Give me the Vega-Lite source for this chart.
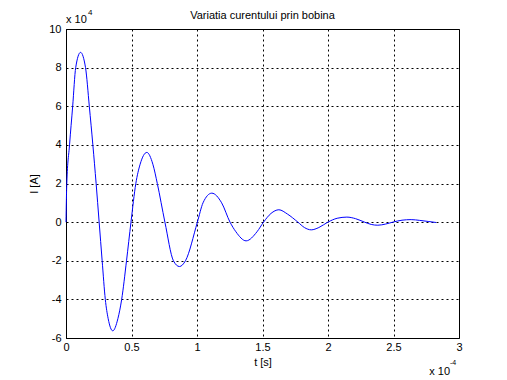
{
  "$schema": "https://vega.github.io/schema/vega-lite/v6.json",
  "width": 393,
  "height": 309,
  "autosize": {"type": "none"},
  "padding": {"left": 66, "top": 29, "right": 48, "bottom": 42},
  "background": "white",
  "config": {
    "font": "Liberation Sans",
    "view": {"stroke": "black", "strokeWidth": 1},
    "axis": {
      "labelFontSize": 11, "labelColor": "black", "labelFont": "Liberation Sans",
      "titleFontSize": 11, "titleFontWeight": "normal", "titleColor": "black", "titleFont": "Liberation Sans",
      "domainColor": "black", "ticks": false, "labelOverlap": false,
      "grid": true, "gridColor": "black", "gridOpacity": 1, "gridDash": [2, 3], "gridWidth": 1
    }
  },
  "layer": [
    {
      "data": {"values": [
        {"t": 0, "I": 0}, {"t": 0.006, "I": 2}, {"t": 0.027, "I": 4}, {"t": 0.051, "I": 6}, {"t": 0.074, "I": 8},
        {"t": 0.111, "I": 8.79}, {"t": 0.149, "I": 8}, {"t": 0.178, "I": 6}, {"t": 0.205, "I": 4}, {"t": 0.23, "I": 2},
        {"t": 0.253, "I": 0}, {"t": 0.276, "I": -2}, {"t": 0.3, "I": -4}, {"t": 0.322, "I": -5}, {"t": 0.357, "I": -5.63},
        {"t": 0.396, "I": -5}, {"t": 0.425, "I": -4}, {"t": 0.462, "I": -2}, {"t": 0.496, "I": 0}, {"t": 0.533, "I": 2},
        {"t": 0.566, "I": 3}, {"t": 0.617, "I": 3.61}, {"t": 0.663, "I": 3}, {"t": 0.697, "I": 2}, {"t": 0.755, "I": 0},
        {"t": 0.82, "I": -2}, {"t": 0.866, "I": -2.3}, {"t": 0.912, "I": -2}, {"t": 1.003, "I": 0}, {"t": 1.046, "I": 1},
        {"t": 1.113, "I": 1.5}, {"t": 1.188, "I": 1}, {"t": 1.252, "I": 0}, {"t": 1.297, "I": -0.5}, {"t": 1.375, "I": -0.97},
        {"t": 1.458, "I": -0.5}, {"t": 1.508, "I": 0}, {"t": 1.565, "I": 0.45}, {"t": 1.625, "I": 0.64}, {"t": 1.69, "I": 0.42},
        {"t": 1.77, "I": 0}, {"t": 1.82, "I": -0.28}, {"t": 1.872, "I": -0.4}, {"t": 1.93, "I": -0.28}, {"t": 1.999, "I": 0},
        {"t": 2.07, "I": 0.2}, {"t": 2.144, "I": 0.26}, {"t": 2.21, "I": 0.18}, {"t": 2.279, "I": 0}, {"t": 2.33, "I": -0.12},
        {"t": 2.38, "I": -0.16}, {"t": 2.44, "I": -0.1}, {"t": 2.495, "I": 0}, {"t": 2.565, "I": 0.1}, {"t": 2.635, "I": 0.13},
        {"t": 2.7, "I": 0.09}, {"t": 2.77, "I": 0.03}, {"t": 2.826, "I": -0.02}
      ]},
      "mark": {"type": "line", "color": "#0000ff", "strokeWidth": 1, "interpolate": "monotone"},
      "encoding": {
        "x": {"field": "t", "type": "quantitative", "scale": {"domain": [0, 3], "nice": false, "zero": false},
              "axis": {"title": "t [s]", "values": [0, 0.5, 1, 1.5, 2, 2.5, 3], "labelExpr": "'' + datum.value", "labelPadding": 3, "titlePadding": 4, "labelFlush": false}},
        "y": {"field": "I", "type": "quantitative", "scale": {"domain": [-6, 10], "nice": false, "zero": false},
              "axis": {"title": "I [A]", "values": [-6, -4, -2, 0, 2, 4, 6, 8, 10], "labelExpr": "'' + datum.value", "labelPadding": 5, "titlePadding": 9, "labelFlush": false}}
      }
    },
    {
      "data": {"values": [{}]},
      "mark": {"type": "text", "align": "center", "baseline": "alphabetic", "fontSize": 11, "color": "black", "dy": -10},
      "encoding": {
        "x": {"datum": 1.5, "type": "quantitative", "axis": {"title": "t [s]", "values": [0, 0.5, 1, 1.5, 2, 2.5, 3], "labelExpr": "'' + datum.value", "labelPadding": 3, "titlePadding": 4, "labelFlush": false}},
        "y": {"datum": 10, "type": "quantitative", "axis": {"title": "I [A]", "values": [-6, -4, -2, 0, 2, 4, 6, 8, 10], "labelExpr": "'' + datum.value", "labelPadding": 5, "titlePadding": 9, "labelFlush": false}},
        "text": {"value": "Variatia curentului prin bobina"}}
    },
    {
      "data": {"values": [{}]},
      "mark": {"type": "text", "align": "left", "baseline": "alphabetic", "fontSize": 11, "color": "black", "dx": 0, "dy": -6},
      "encoding": {
        "x": {"datum": 0, "type": "quantitative", "axis": {"title": "t [s]", "values": [0, 0.5, 1, 1.5, 2, 2.5, 3], "labelExpr": "'' + datum.value", "labelPadding": 3, "titlePadding": 4, "labelFlush": false}},
        "y": {"datum": 10, "type": "quantitative", "axis": {"title": "I [A]", "values": [-6, -4, -2, 0, 2, 4, 6, 8, 10], "labelExpr": "'' + datum.value", "labelPadding": 5, "titlePadding": 9, "labelFlush": false}},
        "text": {"value": "x 10"}}
    },
    {
      "data": {"values": [{}]},
      "mark": {"type": "text", "align": "left", "baseline": "alphabetic", "fontSize": 8, "color": "black", "dx": 22, "dy": -14},
      "encoding": {
        "x": {"datum": 0, "type": "quantitative", "axis": {"title": "t [s]", "values": [0, 0.5, 1, 1.5, 2, 2.5, 3], "labelExpr": "'' + datum.value", "labelPadding": 3, "titlePadding": 4, "labelFlush": false}},
        "y": {"datum": 10, "type": "quantitative", "axis": {"title": "I [A]", "values": [-6, -4, -2, 0, 2, 4, 6, 8, 10], "labelExpr": "'' + datum.value", "labelPadding": 5, "titlePadding": 9, "labelFlush": false}},
        "text": {"value": "4"}}
    },
    {
      "data": {"values": [{}]},
      "mark": {"type": "text", "align": "right", "baseline": "alphabetic", "fontSize": 11, "color": "black", "dx": -9, "dy": 37},
      "encoding": {
        "x": {"datum": 3, "type": "quantitative", "axis": {"title": "t [s]", "values": [0, 0.5, 1, 1.5, 2, 2.5, 3], "labelExpr": "'' + datum.value", "labelPadding": 3, "titlePadding": 4, "labelFlush": false}},
        "y": {"datum": -6, "type": "quantitative", "axis": {"title": "I [A]", "values": [-6, -4, -2, 0, 2, 4, 6, 8, 10], "labelExpr": "'' + datum.value", "labelPadding": 5, "titlePadding": 9, "labelFlush": false}},
        "text": {"value": "x 10"}}
    },
    {
      "data": {"values": [{}]},
      "mark": {"type": "text", "align": "left", "baseline": "alphabetic", "fontSize": 7, "color": "black", "dx": -9, "dy": 27},
      "encoding": {
        "x": {"datum": 3, "type": "quantitative", "axis": {"title": "t [s]", "values": [0, 0.5, 1, 1.5, 2, 2.5, 3], "labelExpr": "'' + datum.value", "labelPadding": 3, "titlePadding": 4, "labelFlush": false}},
        "y": {"datum": -6, "type": "quantitative", "axis": {"title": "I [A]", "values": [-6, -4, -2, 0, 2, 4, 6, 8, 10], "labelExpr": "'' + datum.value", "labelPadding": 5, "titlePadding": 9, "labelFlush": false}},
        "text": {"value": "-4"}}
    }
  ]
}
